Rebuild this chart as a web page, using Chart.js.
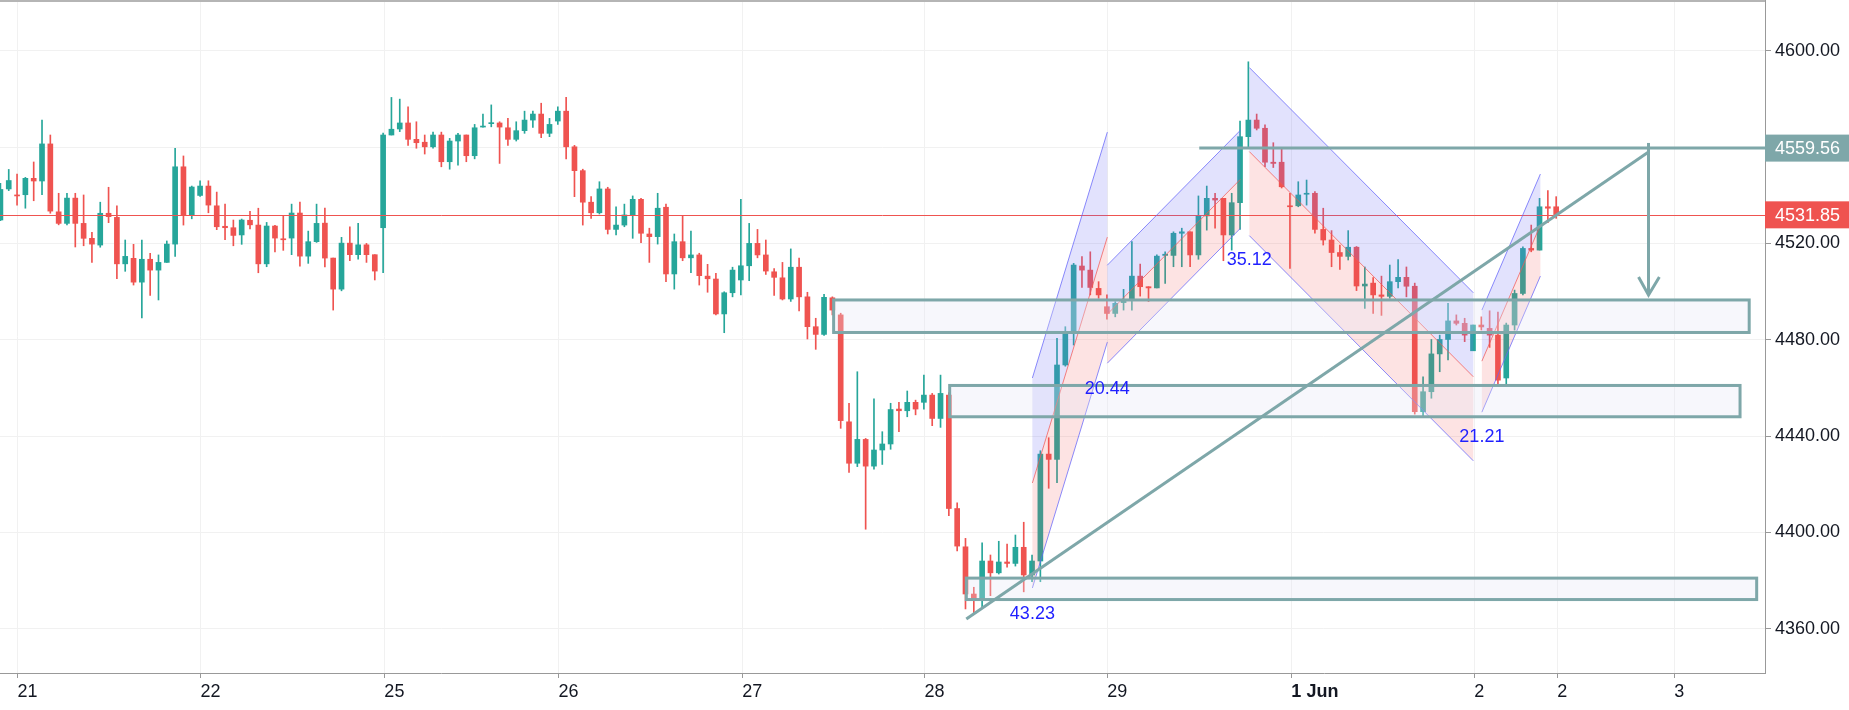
<!DOCTYPE html>
<html lang="en">
<head>
  <meta charset="UTF-8">
  <title>Price chart</title>
  <script src="https://cdn.jsdelivr.net/npm/chart.js"></script>
  <style>
    html, body { margin: 0; padding: 0; background: #fff; }
    .chart-container { position: relative; width: 1849px; height: 710px; }
  </style>
</head>
<body>
  <div class="chart-container"><canvas id="priceChart"></canvas></div>
  <script>
    // candles, one per bar index
    const opens = [4529.7,4542.6,4540.1,4540.2,4547.0,4545.9,4561.3,4533.1,4528.3,4538.8,4528.3,4522.1,4519.3,4532.5,4530.8,4511.5,4513.8,4503.9,4513.4,4508.9,
      4512.1,4519.7,4551.8,4531.8,4539.9,4543.8,4535.6,4527.1,4526.5,4523.5,4529.6,4527.6,4511.5,4527.2,4521.9,4522.2,4532.6,4514.7,4520.7,4528.4,
      4513.9,4501.0,4520.1,4515.3,4519.4,4515.3,4526.5,4565.0,4567.5,4570.0,4563.2,4562.0,4560.1,4565.0,4553.9,4562.5,4565.0,4556.4,4568.3,4569.7,
      4570.0,4568.0,4563.2,4566.8,4571.2,4573.7,4565.7,4570.8,4574.9,4560.1,4550.2,4537.1,4532.7,4542.6,4525.8,4527.6,4531.8,4538.3,4523.9,4522.8,
      4535.0,4507.3,4520.7,4514.0,4515.2,4506.4,4505.2,4490.7,4499.5,4504.8,4510.7,4520.0,4515.2,4508.2,4505.7,4496.9,4510.1,4497.8,4485.4,4482.2,
      4497.4,4490.3,4445.9,4428.7,4438.6,4427.5,4434.2,4436.7,4451.2,4450.5,4454.0,4454.0,4457.0,4447.3,4457.0,4409.9,4394.0,4374.4,4371.9,4388.1,
      4383.2,4387.7,4387.1,4393.8,4382.3,4388.1,4432.5,4430.3,4469.5,4482.6,4510.6,4508.9,4501.3,4493.7,4490.9,4495.4,4496.2,4506.4,4502.0,4501.5,
      4515.0,4515.0,4524.2,4524.8,4515.2,4531.4,4538.7,4538.7,4523.5,4536.9,4564.3,4571.2,4567.8,4553.7,4553.7,4535.6,4535.6,4540.4,4540.8,4525.8,
      4521.4,4516.2,4514.6,4518.4,4502.3,4503.5,4498.6,4498.0,4504.1,4505.9,4502.2,4450.1,4458.4,4474.1,4480.1,4487.8,4486.8,4475.4,4486.1,4484.7,
      4481.9,4464.1,4486.1,4499.2,4517.9,4517.2,4535.2,4535.2];
    const highs = [4544.9,4550.7,4548.8,4547.4,4553.8,4571.2,4565.0,4540.8,4540.8,4540.8,4540.1,4524.6,4537.1,4543.3,4535.6,4521.4,4519.6,4521.4,4515.9,4515.2,
      4521.0,4559.5,4556.3,4543.8,4546.0,4546.0,4541.3,4536.3,4529.7,4530.1,4533.3,4534.6,4528.7,4527.5,4531.4,4536.3,4537.1,4525.1,4536.3,4534.7,
      4513.9,4522.5,4526.9,4528.3,4520.0,4515.3,4565.8,4580.6,4579.9,4576.7,4570.5,4565.0,4566.2,4566.2,4563.6,4565.7,4565.0,4569.4,4573.7,4577.5,
      4570.5,4571.9,4570.5,4574.9,4574.9,4578.2,4571.9,4576.7,4580.6,4560.7,4550.8,4539.4,4545.6,4543.3,4535.2,4536.3,4539.7,4538.7,4526.3,4540.8,
      4536.3,4523.9,4531.4,4525.1,4515.9,4511.3,4507.6,4499.9,4510.1,4538.3,4528.3,4525.8,4521.4,4509.5,4512.1,4517.7,4513.9,4499.7,4488.9,4498.8,
      4497.8,4491.0,4453.6,4466.7,4439.0,4455.4,4441.8,4453.6,4454.0,4458.7,4454.9,4465.3,4457.7,4465.3,4458.0,4412.3,4397.5,4377.2,4395.7,4390.6,
      4396.3,4395.1,4398.9,4404.2,4390.6,4433.9,4439.3,4480.6,4485.4,4511.7,4514.5,4516.5,4504.1,4498.6,4495.8,4500.9,4520.7,4511.4,4502.0,4515.2,
      4516.5,4524.8,4526.3,4524.8,4539.7,4543.8,4540.8,4538.7,4540.8,4570.8,4595.4,4573.7,4569.2,4561.8,4559.5,4540.8,4545.6,4546.3,4541.5,4534.6,
      4525.3,4519.3,4525.3,4518.7,4510.2,4505.8,4506.4,4511.0,4513.3,4510.2,4503.5,4464.6,4480.1,4481.9,4495.1,4490.3,4488.9,4486.1,4489.5,4492.0,
      4491.5,4486.9,4500.6,4518.6,4527.6,4538.7,4541.9,4539.4];
    const lows = [4529.4,4541.9,4535.9,4534.6,4537.7,4540.2,4532.5,4527.7,4527.7,4518.5,4519.0,4512.1,4518.4,4528.6,4505.3,4508.4,4502.7,4489.0,4498.4,4496.5,
      4512.1,4514.6,4527.6,4530.2,4539.5,4532.7,4525.7,4521.5,4519.0,4519.6,4526.0,4507.8,4510.3,4516.4,4517.1,4515.3,4510.5,4511.7,4520.4,4510.2,
      4492.3,4500.3,4512.8,4513.4,4512.1,4504.8,4507.8,4565.0,4566.4,4560.7,4559.5,4557.1,4559.5,4551.8,4550.8,4552.5,4553.9,4555.1,4568.3,4568.4,
      4553.2,4560.7,4562.5,4565.7,4568.2,4563.9,4564.3,4569.4,4555.1,4539.4,4527.6,4530.4,4532.2,4523.9,4523.5,4526.9,4522.1,4520.3,4512.1,4519.7,
      4504.1,4501.0,4512.8,4507.8,4502.7,4499.7,4490.3,4482.9,4497.8,4498.6,4504.5,4514.0,4507.1,4498.4,4496.5,4495.9,4492.0,4480.3,4476.0,4481.8,
      4490.3,4443.2,4424.9,4427.3,4401.3,4426.2,4428.2,4434.5,4441.8,4448.0,4448.8,4451.2,4444.3,4443.6,4406.9,4392.3,4368.2,4366.4,4368.4,4373.7,
      4382.7,4385.5,4386.0,4375.3,4379.5,4379.5,4418.3,4420.6,4469.0,4477.8,4501.7,4498.6,4497.2,4488.5,4489.5,4492.3,4492.3,4498.1,4495.8,4501.5,
      4503.4,4510.3,4510.3,4510.3,4513.4,4525.5,4526.3,4512.8,4517.2,4525.8,4560.1,4567.1,4551.8,4551.5,4543.0,4509.6,4535.2,4535.9,4524.2,4519.3,
      4510.3,4509.2,4513.1,4500.4,4493.0,4490.9,4490.1,4497.2,4501.5,4497.8,4449.1,4448.3,4455.7,4466.7,4471.6,4486.1,4479.2,4475.4,4484.0,4476.8,
      4460.8,4461.2,4484.0,4498.6,4516.5,4517.2,4528.6,4530.4];
    const closes = [4542.4,4546.1,4539.7,4547.0,4545.9,4561.3,4533.4,4528.3,4538.8,4528.3,4522.1,4519.7,4532.5,4531.1,4511.5,4514.6,4503.9,4513.4,4508.9,4512.1,
      4519.7,4551.8,4531.8,4543.4,4543.8,4535.9,4526.9,4526.5,4523.3,4529.7,4527.7,4511.5,4527.2,4522.2,4521.5,4532.6,4514.7,4520.7,4528.3,4513.9,
      4501.0,4520.1,4515.3,4519.4,4515.3,4508.5,4565.0,4567.4,4570.0,4563.2,4561.8,4560.1,4565.0,4553.9,4562.5,4565.0,4556.4,4568.0,4568.6,4570.0,
      4568.3,4563.2,4566.8,4571.2,4573.7,4565.7,4569.4,4574.9,4560.1,4550.2,4537.1,4532.7,4542.6,4525.8,4527.6,4531.8,4538.3,4524.2,4522.8,4534.6,
      4507.3,4520.7,4514.0,4515.2,4506.6,4505.3,4490.7,4499.5,4508.9,4510.7,4520.0,4515.2,4508.5,4505.9,4496.9,4510.1,4497.8,4485.4,4482.2,4497.6,
      4492.3,4446.4,4428.7,4438.6,4427.5,4434.2,4436.7,4451.0,4450.5,4454.0,4451.2,4457.0,4447.3,4457.7,4409.9,4394.3,4374.4,4371.9,4388.1,4383.2,
      4387.7,4387.1,4393.8,4382.3,4388.1,4432.5,4430.3,4469.5,4482.6,4511.0,4508.9,4501.7,4498.6,4490.9,4495.1,4496.2,4506.4,4502.0,4501.5,4514.7,
      4515.5,4524.2,4524.8,4515.2,4531.4,4538.7,4538.0,4523.5,4536.9,4564.3,4571.2,4567.8,4553.7,4553.2,4543.5,4535.2,4540.1,4540.8,4525.8,4521.4,
      4516.2,4514.6,4518.4,4502.3,4503.1,4498.6,4498.0,4504.1,4505.9,4502.2,4450.1,4458.4,4474.1,4480.1,4487.8,4486.8,4481.9,4486.1,4485.3,4481.9,
      4463.2,4486.1,4499.2,4517.9,4517.2,4535.2,4534.6,4531.85];

    // time axis
    const tickIdx = [2.04, 24.04, 46.15, 67.07, 89.18, 111.06, 133.05, 155.17, 177.16, 187.14, 201.2];
    const tickLabels = ['21', '22', '25', '26', '27', '28', '29', '1 Jun', '2', '2', '3'];
    const priceTicks = [4360, 4400, 4440, 4480, 4520, 4560, 4600];
    const xMin = -0.05, xMax = 212.1;
    const yMin = 4341.6, yMax = 4621.06;

    const lastPrice = 4531.85;
    const targetPrice = 4559.56;

    // support/resistance zones
    const zoneX0 = [100.15, 114.1, 116.1];
    const zoneX1 = [210.2, 209.1, 211.1];
    const zoneTop = [4496.5, 4461.0, 4381.0];
    const zoneBottom = [4483.0, 4448.0, 4372.1];

    // regression channels
    const chanX0 = [124.04, 133.05, 150.12, 178.07];
    const chanX1 = [133.05, 149.04, 177.04, 185.1];
    const chanMid0 = [4420.5, 4490.6, 4558.1, 4471.1];
    const chanMid1 = [4522.6, 4546.6, 4464.6, 4527.6];
    const chanDev = [43.6, 20.35, 34.9, 21.2];
    const chanText = ['43.23', '20.44', '35.12', '21.21'];
    const chanTextY = [4366.1, 4459.5, 4513.1, 4439.6];

    // projection drawing
    const trendX = [116.1, 198.1];
    const trendY = [4364.0, 4557.9];
    const levelX0 = 144.1;
    const dropX = 198.1;
    const dropY = [4561.7, 4498.6];
    const arrowX = [196.9, 198.1, 199.4];
    const arrowY = [4506.0, 4498.6, 4506.0];

    const up = '#26a69a';
    const down = '#ef5350';
    const teal = '#7ea7a9';
    const colors = closes.map((c, i) => c >= opens[i] ? up : down);
    const bodies = opens.map((o, i) => ({ x: i, y: [o, closes[i]] }));
    const wicks = lows.map((l, i) => ({ x: i, y: [l, highs[i]] }));

    const drawings = {
      id: 'drawings',
      afterDatasetsDraw(chart) {
        const { ctx, chartArea: a, scales: { x, y } } = chart;
        const px = v => x.getPixelForValue(v);
        const py = v => y.getPixelForValue(v);
        ctx.save();
        ctx.beginPath();
        ctx.rect(a.left, a.top, a.right - a.left, a.bottom - a.top);
        ctx.clip();

        // last price line
        ctx.strokeStyle = down;
        ctx.lineWidth = 1;
        ctx.beginPath();
        ctx.moveTo(a.left, Math.round(py(lastPrice)) + 0.5);
        ctx.lineTo(a.right, Math.round(py(lastPrice)) + 0.5);
        ctx.stroke();

        // channels
        chanX0.forEach((c0, i) => {
          const x0 = px(c0), x1 = px(chanX1[i]);
          const m0 = chanMid0[i], m1 = chanMid1[i], d = chanDev[i];
          ctx.fillStyle = 'rgba(110,110,245,0.2)';
          ctx.beginPath();
          ctx.moveTo(x0, py(m0 + d)); ctx.lineTo(x1, py(m1 + d));
          ctx.lineTo(x1, py(m1)); ctx.lineTo(x0, py(m0));
          ctx.closePath(); ctx.fill();
          ctx.fillStyle = 'rgba(240,80,80,0.16)';
          ctx.beginPath();
          ctx.moveTo(x0, py(m0)); ctx.lineTo(x1, py(m1));
          ctx.lineTo(x1, py(m1 - d)); ctx.lineTo(x0, py(m0 - d));
          ctx.closePath(); ctx.fill();
          ctx.lineWidth = 1;
          ctx.strokeStyle = 'rgba(100,100,250,0.75)';
          [d, -d].forEach(off => {
            ctx.beginPath();
            ctx.moveTo(x0, py(m0 + off)); ctx.lineTo(x1, py(m1 + off));
            ctx.stroke();
          });
          ctx.strokeStyle = 'rgba(240,90,90,0.75)';
          ctx.beginPath();
          ctx.moveTo(x0, py(m0)); ctx.lineTo(x1, py(m1));
          ctx.stroke();
        });

        // zones
        zoneX0.forEach((z0, i) => {
          const x0 = px(z0), x1 = px(zoneX1[i]);
          const y0 = py(zoneTop[i]), y1 = py(zoneBottom[i]);
          ctx.fillStyle = 'rgba(230,228,245,0.3)';
          ctx.fillRect(x0, y0, x1 - x0, y1 - y0);
          ctx.strokeStyle = teal;
          ctx.lineWidth = 3;
          ctx.strokeRect(x0, y0, x1 - x0, y1 - y0);
        });

        // trend line, target level, arrow
        ctx.strokeStyle = teal;
        ctx.lineWidth = 3;
        ctx.lineCap = 'butt';
        ctx.beginPath();
        ctx.moveTo(px(trendX[0]), py(trendY[0]));
        ctx.lineTo(px(trendX[1]), py(trendY[1]));
        ctx.stroke();
        ctx.beginPath();
        ctx.moveTo(px(levelX0), py(targetPrice));
        ctx.lineTo(a.right, py(targetPrice));
        ctx.stroke();
        ctx.beginPath();
        ctx.moveTo(px(dropX), py(dropY[0]));
        ctx.lineTo(px(dropX), py(dropY[1]));
        ctx.stroke();
        ctx.beginPath();
        ctx.moveTo(px(arrowX[0]), py(arrowY[0]));
        ctx.lineTo(px(arrowX[1]), py(arrowY[1]));
        ctx.lineTo(px(arrowX[2]), py(arrowY[2]));
        ctx.stroke();

        // channel labels
        ctx.fillStyle = '#1f1fff';
        ctx.font = '18px "Liberation Sans", sans-serif';
        ctx.textAlign = 'center';
        ctx.textBaseline = 'middle';
        chanText.forEach((t, i) => ctx.fillText(t, px(chanX0[i]), py(chanTextY[i])));
        ctx.restore();
      },
      afterDraw(chart) {
        const { ctx, chartArea: a, scales: { y } } = chart;
        ctx.save();
        // top border
        ctx.strokeStyle = '#b5b5b5';
        ctx.lineWidth = 2;
        ctx.beginPath();
        ctx.moveTo(a.left, a.top + 1);
        ctx.lineTo(a.right, a.top + 1);
        ctx.stroke();
        // price labels on the axis
        ctx.font = '18px "Liberation Sans", sans-serif';
        ctx.textAlign = 'left';
        ctx.textBaseline = 'middle';
        [[targetPrice, teal], [lastPrice, down]].forEach(([v, c]) => {
          const yy = y.getPixelForValue(v);
          ctx.fillStyle = c;
          ctx.fillRect(a.right, yy - 13.5, chart.width - a.right, 27);
          ctx.fillStyle = '#ffffff';
          ctx.fillText(v.toFixed(2), a.right + 10, yy + 1);
        });
        ctx.restore();
      }
    };

    Chart.defaults.font.family = '"Liberation Sans", sans-serif';
    Chart.defaults.font.size = 18;
    Chart.defaults.color = '#131722';

    new Chart(document.getElementById('priceChart'), {
      type: 'bar',
      data: {
        datasets: [
          { data: wicks, backgroundColor: colors, barThickness: 1, grouped: false, order: 2 },
          { data: bodies, backgroundColor: colors, barThickness: 5, grouped: false, minBarLength: 1, order: 1 }
        ]
      },
      options: {
        responsive: true,
        maintainAspectRatio: false,
        animation: false,
        events: [],
        layout: { padding: 0 },
        plugins: { legend: { display: false }, tooltip: { enabled: false } },
        scales: {
          x: {
            type: 'linear',
            min: xMin,
            max: xMax,
            offset: false,
            afterBuildTicks: s => { s.ticks = tickIdx.map(v => ({ value: v })); },
            afterFit: s => { s.height = 37; s.paddingLeft = 0; s.paddingRight = 0; },
            grid: { color: '#f1f1f1', offset: false, tickColor: '#999', tickLength: 5 },
            border: { color: '#999', width: 1 },
            ticks: {
              autoSkip: false,
              maxRotation: 0,
              align: 'start',
              padding: 3,
              callback: (v, i) => tickLabels[i],
              font: c => ({ weight: c.tick && c.tick.label === '1 Jun' ? 'bold' : 'normal' })
            }
          },
          y: {
            position: 'right',
            min: yMin,
            max: yMax,
            afterBuildTicks: s => { s.ticks = priceTicks.map(v => ({ value: v })); },
            afterFit: s => { s.width = 84; s.paddingTop = 0; s.paddingBottom = 0; },
            grid: { color: '#f1f1f1', tickColor: '#999', tickLength: 6 },
            border: { color: '#999', width: 1 },
            ticks: {
              padding: 4,
              callback: v => (v === 4560 ? '' : v.toFixed(2))
            }
          }
        }
      },
      plugins: [drawings]
    });
  </script>
</body>
</html>
